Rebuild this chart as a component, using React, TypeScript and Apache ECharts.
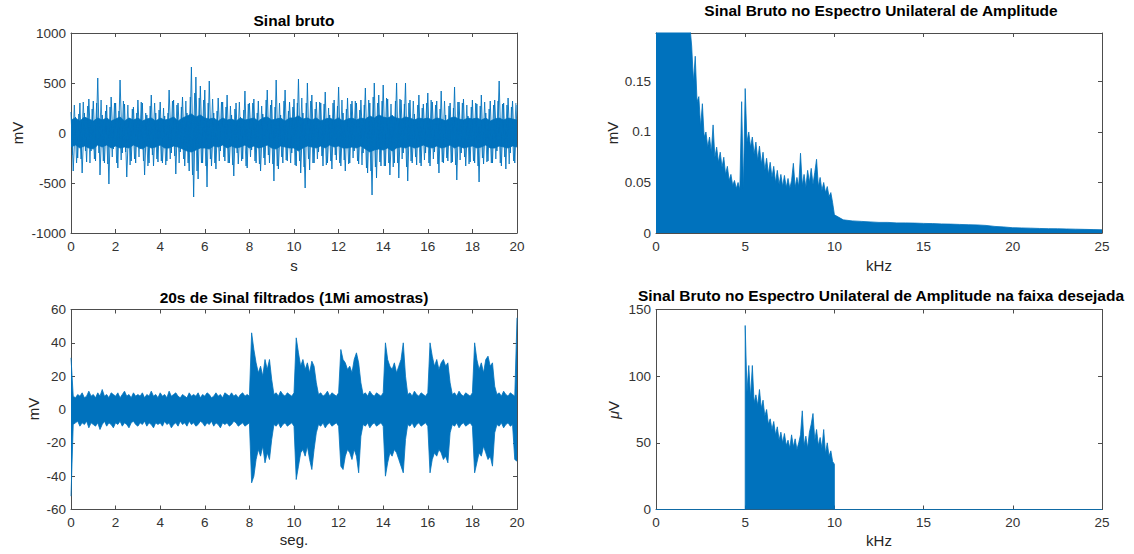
import React, { useEffect, useRef } from 'react';
import * as echarts from 'echarts';

// ---------- data ----------
// raw signal: individual excursions every 0.1 s (mV)
const rawStepS = 0.1;
const rawSignalMV = [
  210, -380, 160, -250, 300, -400, 200, -290, 340, -180,
  320, -280, 550, -420, 180, -300, 280, -510, 360, -160,
  300, -350, 530, -200, 290, -440, 150, -280, 260, -300,
  330, -160, 300, -420, 180, -300, 380, -330, 200, -290,
  310, -300, 170, -280, 430, -200, 330, -410, 300, -190,
  360, -330, 200, -380, 660, -640, 560, -460, 470, -300,
  430, -540, 520, -330, 200, -360, 350, -180, 310, -280,
  380, -300, 180, -430, 300, -310, 160, -260, 420, -350,
  300, -170, 340, -300, 320, -380, 190, -320, 430, -300,
  330, -480, 530, -360, 180, -300, 430, -280, 310, -200,
  340, -330, 540, -400, 200, -550, 500, -370, 380, -300,
  310, -190, 300, -330, 410, -300, 180, -360, 330, -270,
  460, -330, 200, -380, 350, -300, 320, -180, 300, -310,
  330, -200, 450, -400, 300, -620, 500, -450, 380, -330,
  480, -330, 340, -420, 180, -300, 500, -450, 330, -200,
  500, -480, 330, -300, 190, -320, 380, -330, 290, -200,
  400, -330, 310, -190, 320, -400, 420, -300, 180, -280,
  300, -290, 460, -470, 310, -200, 340, -330, 170, -290,
  330, -300, 290, -490, 380, -310, 200, -280, 320, -300,
  330, -180, 520, -330, 300, -360, 350, -200, 320, -300,
  280,
];
// raw signal: excursions in between, at 0.05 s + every 0.1 s (mV)
const rawOffsetS = 0.05;
const rawSignalBetweenMV = [
  -220, 280, -300, 190, -260, 310, -180, 270, -300, 240,
  -260, 300, -200, 330, -280, 220, -310, 260, -240, 300,
  -300, 220, -270, 320, -190, 280, -320, 240, -260, 200,
  -240, 310, -280, 200, -330, 270, -220, 300, -260, 230,
  -280, 250, -320, 200, -260, 320, -230, 280, -300, 260,
  -260, 320, -300, 360, -420, 400, -380, 350, -300, 330,
  -330, 300, -260, 340, -300, 220, -280, 310, -240, 260,
  -300, 270, -320, 240, -200, 310, -280, 230, -330, 290,
  -240, 300, -280, 200, -310, 270, -250, 330, -220, 280,
  -310, 260, -330, 300, -240, 320, -270, 220, -300, 260,
  -320, 300, -280, 350, -340, 300, -260, 320, -300, 240,
  -260, 310, -230, 290, -320, 250, -280, 300, -220, 270,
  -300, 330, -270, 240, -310, 290, -250, 320, -280, 230,
  -320, 280, -350, 330, -380, 360, -340, 300, -290, 320,
  -330, 350, -300, 290, -340, 320, -300, 340, -260, 290,
  -340, 300, -280, 320, -240, 280, -300, 250, -270, 300,
  -300, 330, -260, 280, -310, 240, -290, 320, -250, 270,
  -300, 250, -320, 310, -270, 300, -240, 280, -310, 260,
  -280, 300, -330, 270, -250, 310, -290, 240, -300, 280,
  -260, 320, -300, 290, -240, 280, -310, 260, -280, 300,
];
// raw signal: dense core band, every 0.2 s (mV)
const rawCoreStepS = 0.2;
const rawCoreUpperMV = [
  130, 150, 120, 160, 140, 120, 150, 130, 150, 120,
  140, 160, 120, 150, 130, 150, 120, 140, 150, 120,
  150, 130, 140, 160, 120, 150, 170, 190, 160, 180,
  150, 140, 150, 120, 150, 130, 140, 120, 150, 130,
  140, 150, 120, 150, 160, 130, 140, 150, 120, 150,
  150, 170, 140, 150, 130, 150, 120, 140, 150, 130,
  150, 120, 140, 150, 130, 150, 140, 170, 150, 180,
  160, 150, 170, 150, 140, 160, 150, 130, 150, 140,
  150, 130, 150, 140, 120, 150, 160, 140, 130, 150,
  140, 150, 130, 150, 120, 140, 150, 130, 150, 140,
  130,
];
const rawCoreLowerMV = [
  -140, -120, -150, -130, -150, -160, -120, -140, -120, -150,
  -130, -150, -140, -150, -120, -140, -160, -130, -150, -140,
  -120, -150, -150, -130, -140, -160, -180, -190, -170, -150,
  -150, -160, -130, -140, -120, -150, -130, -150, -140, -120,
  -150, -130, -150, -140, -120, -150, -160, -130, -140, -150,
  -150, -180, -150, -130, -140, -150, -130, -150, -120, -140,
  -130, -150, -150, -140, -150, -130, -160, -190, -170, -160,
  -170, -150, -180, -150, -140, -150, -130, -150, -140, -120,
  -140, -150, -130, -150, -140, -120, -150, -130, -150, -140,
  -130, -150, -140, -120, -150, -150, -130, -140, -150, -130,
  -140,
];

// filtered signal envelope every 0.1 s (mV)
const filteredStepS = 0.1;
const filteredUpperMV = [
  31, 8, 7, 9, 8, 10, 7, 8, 11, 8,
  9, 7, 10, 8, 12, 8, 9, 7, 10, 9,
  8, 10, 7, 9, 11, 8, 9, 7, 10, 8,
  9, 8, 10, 7, 9, 8, 11, 8, 9, 7,
  10, 8, 9, 7, 11, 8, 9, 10, 8, 7,
  9, 8, 7, 10, 8, 9, 8, 10, 7, 9,
  8, 10, 9, 7, 8, 10, 8, 9, 7, 10,
  9, 8, 10, 8, 9, 7, 9, 10, 8, 9,
  8, 46, 36, 28, 22, 26, 20, 30, 24, 30,
  18, 9, 10, 8, 11, 9, 8, 10, 9, 8,
  10, 43, 34, 26, 30, 24, 28, 22, 29, 26,
  16, 9, 10, 8, 9, 11, 8, 10, 9, 8,
  10, 36, 30, 28, 24, 26, 22, 30, 34, 28,
  16, 9, 10, 8, 11, 9, 8, 10, 9, 8,
  10, 40, 30, 26, 24, 28, 22, 26, 30, 40,
  20, 9, 10, 8, 11, 9, 8, 10, 9, 8,
  10, 40, 32, 26, 30, 24, 28, 30, 26, 28,
  16, 9, 10, 8, 11, 9, 8, 10, 9, 8,
  10, 40, 30, 24, 28, 22, 30, 32, 26, 28,
  14, 9, 10, 8, 11, 9, 8, 10, 9, 8,
  55,
];
const filteredLowerMV = [
  -52, -9, -8, -7, -10, -8, -9, -7, -11, -8,
  -9, -10, -8, -12, -9, -7, -10, -8, -9, -11,
  -8, -9, -7, -10, -8, -9, -11, -8, -7, -9,
  -10, -8, -9, -7, -10, -8, -9, -11, -8, -9,
  -8, -10, -7, -9, -8, -11, -9, -8, -10, -7,
  -9, -8, -10, -7, -9, -8, -10, -9, -7, -8,
  -10, -8, -9, -7, -10, -8, -9, -11, -8, -9,
  -8, -10, -9, -7, -8, -10, -9, -8, -10, -9,
  -8, -44, -40, -30, -24, -28, -22, -32, -26, -30,
  -18, -9, -10, -8, -11, -9, -8, -10, -9, -8,
  -10, -42, -34, -26, -24, -28, -22, -30, -36, -24,
  -14, -9, -10, -8, -11, -9, -8, -10, -9, -8,
  -10, -34, -36, -28, -24, -26, -30, -24, -28, -38,
  -16, -9, -10, -8, -11, -9, -8, -10, -9, -8,
  -10, -40, -32, -26, -28, -24, -26, -30, -34, -38,
  -18, -9, -10, -8, -11, -9, -8, -10, -9, -8,
  -10, -38, -30, -26, -28, -24, -26, -30, -28, -32,
  -14, -9, -10, -8, -11, -9, -8, -10, -9, -8,
  -10, -38, -32, -26, -28, -22, -26, -30, -28, -34,
  -14, -9, -10, -8, -11, -9, -8, -10, -9, -30,
  -31,
];

// one-sided amplitude spectrum, 0 .. 10 kHz every 0.1 kHz (mV)
const spectrumStepKHz = 0.1;
const spectrumMV = [
  0.5, 0.48, 0.45, 0.42, 0.4, 0.38, 0.36, 0.34, 0.33, 0.31,
  0.3, 0.29, 0.28, 0.27, 0.26, 0.25, 0.24, 0.23, 0.22, 0.205,
  0.185, 0.15, 0.175, 0.13, 0.135, 0.105, 0.128, 0.095, 0.1, 0.085,
  0.095, 0.08, 0.107, 0.075, 0.085, 0.07, 0.08, 0.065, 0.075, 0.058,
  0.066, 0.052, 0.058, 0.047, 0.052, 0.044, 0.05, 0.043, 0.13, 0.044,
  0.143, 0.09, 0.1, 0.085, 0.095, 0.078, 0.09, 0.072, 0.086, 0.068,
  0.08, 0.062, 0.074, 0.058, 0.07, 0.055, 0.066, 0.05, 0.062, 0.048,
  0.058, 0.046, 0.057, 0.045, 0.054, 0.044, 0.052, 0.069, 0.045, 0.055,
  0.046, 0.079, 0.047, 0.058, 0.045, 0.062, 0.05, 0.064, 0.048, 0.06,
  0.073, 0.046, 0.055, 0.042, 0.05, 0.04, 0.046, 0.036, 0.04, 0.03,
  0.018,
];
// tail of the spectrum, 10.5 .. 25 kHz every 0.5 kHz (mV)
const tailStartKHz = 10.5;
const tailStepKHz = 0.5;
const spectrumTailMV = [
  0.013, 0.012, 0.0115, 0.011, 0.0105, 0.0105, 0.01, 0.01, 0.0098, 0.0095,
  0.0093, 0.009, 0.0088, 0.0085, 0.0082, 0.008, 0.0075, 0.0065, 0.006, 0.0052,
  0.005, 0.0048, 0.0045, 0.0043, 0.0042, 0.004, 0.0038, 0.0036, 0.0034, 0.0032,
];

// spectrum in the wanted band, 5 .. 10 kHz every 0.1 kHz (µV); zero outside
const bandStartKHz = 5;
const bandStepKHz = 0.1;
const bandSpectrumUV = [
  138, 88, 108, 84, 108, 80, 86, 78, 90, 76,
  82, 70, 75, 64, 68, 60, 66, 56, 62, 52,
  58, 50, 57, 48, 52, 46, 56, 47, 53, 45,
  50, 56, 74, 48, 55, 46, 58, 64, 72, 52,
  60, 48, 54, 46, 60, 42, 50, 40, 44, 36,
  34,
];
const outOfBandKHz = [0, 5, 10, 25];

const titles = [
  'Sinal bruto',
  'Sinal Bruto no Espectro Unilateral de Amplitude',
  '20s de Sinal filtrados (1Mi amostras)',
  'Sinal Bruto no Espectro Unilateral de Amplitude na faixa desejada',
];

// ---------- styling ----------
const BLUE = '#0072BD';
const AXIS = '#4d4d4d';
const LABEL = '#333333';
const FONT = '"Liberation Sans", Arial, sans-serif';

const grids = [
  { left: 71, top: 33, width: 446, height: 200 },
  { left: 656, top: 33, width: 446, height: 200 },
  { left: 71, top: 309.5, width: 446, height: 200 },
  { left: 656, top: 309.5, width: 446, height: 200 },
];

const plain = (v: number) => String(v);

function boxAxes(g: number, xMax: number, xInt: number, yMin: number, yMax: number, yInt: number, yFmt: (v: number) => string = plain) {
  const line = { show: true, onZero: false, lineStyle: { color: AXIS, width: 1 } };
  const tick = { show: true, inside: true, length: 4, lineStyle: { color: AXIS, width: 1 } };
  const lab = { color: LABEL, fontSize: 13.5, fontFamily: FONT };
  const x = [
    { type: 'value', gridIndex: g, position: 'bottom', min: 0, max: xMax, interval: xInt, axisLine: line, axisTick: tick, axisLabel: { ...lab, margin: 6, formatter: plain }, splitLine: { show: false } },
    { type: 'value', gridIndex: g, position: 'top', min: 0, max: xMax, interval: xInt, axisLine: line, axisTick: tick, axisLabel: { show: false }, splitLine: { show: false } },
  ];
  const y = [
    { type: 'value', gridIndex: g, position: 'left', min: yMin, max: yMax, interval: yInt, axisLine: line, axisTick: tick, axisLabel: { ...lab, margin: 5, formatter: yFmt }, splitLine: { show: false } },
    { type: 'value', gridIndex: g, position: 'right', min: yMin, max: yMax, interval: yInt, axisLine: line, axisTick: tick, axisLabel: { show: false }, splitLine: { show: false } },
  ];
  return { x, y };
}

function txt(text: string, x: number, y: number, size: number, bold = false, rotate = false) {
  return {
    type: 'text',
    x,
    y,
    rotation: rotate ? Math.PI / 2 : 0,
    style: {
      text,
      fill: bold ? '#000' : '#262626',
      font: `${bold ? 'bold ' : ''}${size}px ${FONT}`,
      textAlign: 'center',
      textVerticalAlign: 'middle',
    },
  };
}

export default function App() {
  const ref = useRef<HTMLDivElement>(null);
  useEffect(() => {
    if (!ref.current) return;
    const chart = echarts.init(ref.current, undefined, { renderer: 'svg' });

    const a1 = boxAxes(0, 20, 2, -1000, 1000, 500);
    const a2 = boxAxes(1, 25, 5, 0, 0.198, 0.05, (v: number) => (v > 0.19 ? '' : String(v)));
    const a3 = boxAxes(2, 20, 2, -60, 60, 20);
    const a4 = boxAxes(3, 25, 5, 0, 150, 50);

    const series = (xi: number, data: number[][], area: boolean, w = 0.9, origin: number | string = 'auto') => ({
      type: 'line',
      xAxisIndex: xi,
      yAxisIndex: xi,
      data,
      showSymbol: false,
      symbol: 'none',
      clip: true,
      lineStyle: { color: BLUE, width: w },
      areaStyle: area ? { color: BLUE, opacity: 1, origin } : undefined,
      z: 3,
    });

    const rawData = rawSignalMV.map((v, i) => [i * rawStepS, v]);
    const rawBetween = rawSignalBetweenMV.map((v, i) => [rawOffsetS + i * rawStepS, v]);
    const coreUp = rawCoreUpperMV.map((v, i) => [i * rawCoreStepS, v]);
    const coreLo = rawCoreLowerMV.map((v, i) => [i * rawCoreStepS, v]);
    const filtUp = filteredUpperMV.map((v, i) => [i * filteredStepS, v]);
    const filtLo = filteredLowerMV.map((v, i) => [i * filteredStepS, v]);
    const specData = [
      ...spectrumMV.map((v, i) => [i * spectrumStepKHz, v]),
      ...spectrumTailMV.map((v, i) => [tailStartKHz + i * tailStepKHz, v]),
    ];
    const bandData = [
      [outOfBandKHz[0], 0],
      [outOfBandKHz[1], 0],
      ...bandSpectrumUV.map((v, i) => [bandStartKHz + i * bandStepKHz, v]),
      [outOfBandKHz[2], 0],
      [outOfBandKHz[3], 0],
    ];

    chart.setOption({
      animation: false,
      backgroundColor: '#ffffff',
      grid: grids,
      xAxis: [...a1.x, ...a2.x, ...a3.x, ...a4.x],
      yAxis: [...a1.y, ...a2.y, ...a3.y, ...a4.y],
      series: [
        series(0, coreUp, true, 0.8, -30),
        series(0, coreLo, true, 0.8, 30),
        series(0, rawBetween, false, 0.8),
        series(0, rawData, false, 0.9),
        series(2, specData, true, 0.8),
        series(4, filtUp, true, 0.8, -3),
        series(4, filtLo, true, 0.8, 3),
        series(6, bandData, true, 0.8),
      ],
      graphic: [
        txt(titles[0], 294, 20, 15.5, true),
        txt(titles[1], 881, 10, 15.5, true),
        txt(titles[2], 294, 297, 15.5, true),
        txt(titles[3], 881, 295, 15.5, true),
        txt('s', 294, 265, 15),
        txt('kHz', 879, 265, 15),
        txt('seg.', 294, 539, 15),
        txt('kHz', 879, 540, 15),
        txt('mV', 17, 133, 15, false, true),
        txt('mV', 612, 133, 15, false, true),
        txt('mV', 33, 409, 15, false, true),
        {
          type: 'text',
          x: 613,
          y: 410,
          rotation: Math.PI / 2,
          style: {
            text: '{i|μ}V',
            fill: '#262626',
            font: `15px ${FONT}`,
            textAlign: 'center',
            textVerticalAlign: 'middle',
            rich: { i: { fontStyle: 'italic', fontSize: 15, fontFamily: FONT, fill: '#262626' } },
          },
        },
      ],
    });
    return () => chart.dispose();
  }, []);

  return <div ref={ref} style={{ position: 'absolute', left: 0, top: 0, width: 1134, height: 554, background: '#fff' }} />;
}
